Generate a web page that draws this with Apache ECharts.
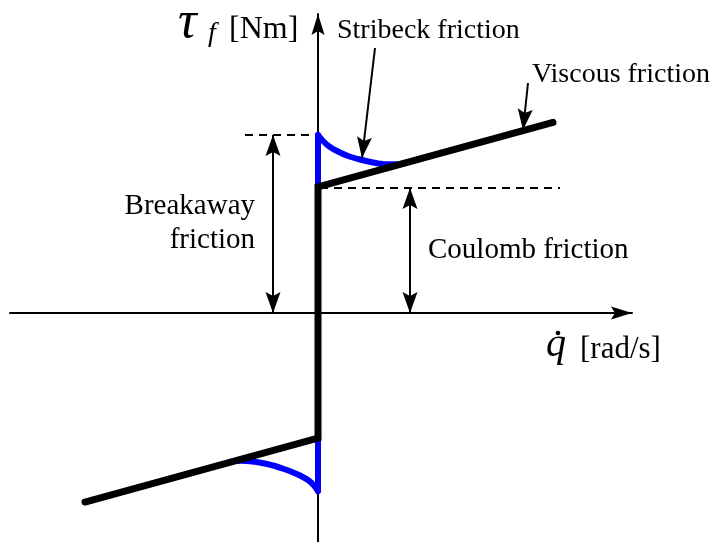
<!DOCTYPE html>
<html>
<head>
<meta charset="utf-8">
<title>Friction model</title>
<script src="https://cdn.jsdelivr.net/npm/echarts@6/dist/echarts.min.js"></script>
<style>
  html, body { margin: 0; padding: 0; background: #fff; }
  #chart { width: 716px; height: 542px; }
</style>
</head>
<body>
<div id="chart"></div>
<script>
// friction torque vs. joint velocity, arbitrary units
const coulombLevel = 1.25
const breakawayLevel = 1.78

// black curve: negative viscous branch, jump through zero, positive viscous branch
const frictionX = [-2.33, 0, 0, 2.35]
const frictionY = [-1.89, -1.25, 1.26, 1.906]

// blue Stribeck curve, positive velocity
const stribeckPosX = [0, 0.05, 0.12, 0.2, 0.3, 0.42, 0.55, 0.68, 0.8, 0.9]
const stribeckPosY = [1.78, 1.72, 1.66, 1.615, 1.57, 1.535, 1.505, 1.487, 1.487, 1.508]

// blue Stribeck curve, negative velocity
const stribeckNegX = [0, -0.04, -0.1, -0.18, -0.26, -0.34, -0.43, -0.52, -0.6, -0.68, -0.76, -0.85]
const stribeckNegY = [-1.78, -1.725, -1.67, -1.625, -1.59, -1.56, -1.53, -1.507, -1.492, -1.483, -1.478, -1.482]

// blue jumps at zero velocity [y from, y to]
const jumpPosY = [1.26, 1.78]
const jumpNegY = [-1.25, -1.78]

// dashed guide lines [x start, x end]
const breakawayDashX = [-0.73, 0]
const coulombDashX = [0.02, 2.42]

// annotation arrows: x position of the two level markers
const breakawayArrowX = -0.45
const coulombArrowX = 0.92
// pointer arrows [from, to]
const stribeckPointer = [[0.57, 2.65], [0.44, 1.55]]
const viscousPointer = [[2.10, 2.30], [2.05, 1.83]]

const zip = (xs, ys) => xs.map((x, i) => [x, ys[i]])

const font = '"Liberation Serif", "DejaVu Serif", serif'
// arrow head with its tip in the middle of the symbol box
const head = 'path://M0,0 M5,16 L10,32 L5,29 L0,32 Z'
const headSize = [15, 42]

const chart = echarts.init(document.getElementById('chart'))

const txt = (text, x, y, size, align, style) => ({
  type: 'text',
  x: x,
  y: y,
  silent: true,
  style: {
    text: text,
    font: (style || '') + ' ' + size + 'px ' + font,
    fill: '#000',
    align: align,
    textAlign: align,
    verticalAlign: 'middle',
    textVerticalAlign: 'middle'
  }
})

const blue = { color: '#0000ff', width: 6, cap: 'round', join: 'round' }

chart.setOption({
  animation: false,
  grid: { left: 10, right: 84, top: 14, bottom: 0 },
  xAxis: {
    type: 'value',
    min: -3.08,
    max: 3.14,
    axisLine: {
      onZero: true,
      symbol: ['none', head],
      symbolSize: headSize,
      lineStyle: { color: '#000', width: 2 }
    },
    axisTick: { show: false },
    axisLabel: { show: false },
    splitLine: { show: false }
  },
  yAxis: {
    type: 'value',
    min: -2.29,
    max: 2.99,
    axisLine: {
      onZero: true,
      symbol: ['none', head],
      symbolSize: headSize,
      lineStyle: { color: '#000', width: 2 }
    },
    axisTick: { show: false },
    axisLabel: { show: false },
    splitLine: { show: false }
  },
  series: [
    {
      type: 'lines',
      coordinateSystem: 'cartesian2d',
      z: 1,
      symbol: ['none', 'none'],
      lineStyle: { color: '#000', width: 1.8, type: [8, 6], opacity: 1 },
      data: [
        { coords: [[breakawayDashX[0], breakawayLevel], [breakawayDashX[1], breakawayLevel]] },
        { coords: [[coulombDashX[0], coulombLevel], [coulombDashX[1], coulombLevel]] }
      ]
    },
    {
      type: 'lines',
      coordinateSystem: 'cartesian2d',
      z: 1,
      symbol: [head, head],
      symbolSize: [headSize, headSize],
      lineStyle: { color: '#000', width: 2, opacity: 1 },
      data: [
        { coords: [[breakawayArrowX, 0], [breakawayArrowX, breakawayLevel]] },
        { coords: [[coulombArrowX, 0], [coulombArrowX, coulombLevel]] }
      ]
    },
    {
      type: 'lines',
      coordinateSystem: 'cartesian2d',
      z: 4,
      symbol: ['none', head],
      symbolSize: [headSize, headSize],
      lineStyle: { color: '#000', width: 2, opacity: 1 },
      data: [
        { coords: stribeckPointer },
        { coords: viscousPointer }
      ]
    },
    {
      type: 'line',
      z: 2,
      showSymbol: false,
      smooth: 0.3,
      data: zip(stribeckPosX, stribeckPosY),
      lineStyle: blue
    },
    {
      type: 'line',
      z: 2,
      showSymbol: false,
      smooth: 0.3,
      data: zip(stribeckNegX, stribeckNegY),
      lineStyle: blue
    },
    {
      type: 'line',
      z: 2,
      showSymbol: false,
      data: [[0, jumpPosY[0]], [0, jumpPosY[1]]],
      lineStyle: blue
    },
    {
      type: 'line',
      z: 2,
      showSymbol: false,
      data: [[0, jumpNegY[0]], [0, jumpNegY[1]]],
      lineStyle: blue
    },
    {
      type: 'line',
      z: 3,
      showSymbol: false,
      data: zip(frictionX, frictionY),
      lineStyle: { color: '#000', width: 7, cap: 'round', join: 'miter' }
    }
  ],
  graphic: [
    txt('τ', 178, 23, 52, 'left', 'italic'),
    txt('f', 208, 34, 28, 'left', 'italic'),
    txt('[Nm]', 229, 30, 32, 'left'),
    txt('Stribeck friction', 337, 31, 28, 'left'),
    txt('Viscous friction', 532, 75, 28, 'left'),
    txt('Breakaway', 255, 206, 29, 'right'),
    txt('friction', 255, 240, 29, 'right'),
    txt('Coulomb friction', 428, 250, 29, 'left'),
    txt('q', 546, 345, 40, 'left', 'italic'),
    { type: 'circle', silent: true, shape: { cx: 558, cy: 333, r: 2.3 }, style: { fill: '#000' } },
    txt('[rad/s]', 580, 350, 31, 'left')
  ]
})
</script>
</body>
</html>
